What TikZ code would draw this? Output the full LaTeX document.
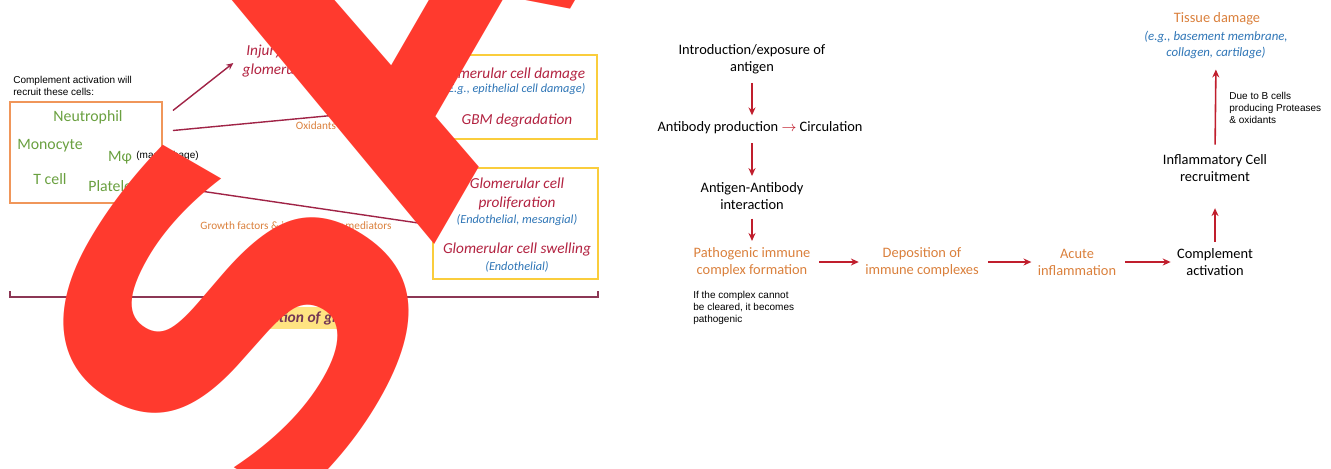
\documentclass[tikz,border=0pt]{standalone}
\usepackage{fontspec}
\setmainfont{Carlito}
\newfontfamily\arialfont{Liberation Sans}
\newfontfamily\stampfont{DejaVu Sans}
\usepackage{xcolor}
\usetikzlibrary{arrows.meta, positioning, calc}

\definecolor{cellgreen}{RGB}{106,160,64}
\definecolor{effred}{RGB}{178,34,64}
\definecolor{exblue}{RGB}{46,117,182}
\definecolor{pathorange}{RGB}{218,128,60}
\definecolor{arrowred}{RGB}{192,30,45}
\definecolor{linkred}{RGB}{160,35,70}
\definecolor{boxorange}{RGB}{240,150,90}
\definecolor{boxyellow}{RGB}{250,205,60}
\definecolor{bracketc}{RGB}{140,55,85}
\definecolor{glomtext}{RGB}{115,55,85}
\definecolor{hilite}{RGB}{255,228,130}
\definecolor{wmred}{RGB}{255,58,46}

\tikzset{
  stage/.style   = {align=center, inner sep=0pt,
                    font=\fontsize{8.2}{9.6}\selectfont},
  note/.style    = {align=left, inner sep=0pt,
                    font=\arialfont\fontsize{5.7}{6.9}\selectfont},
  cell/.style    = {inner sep=0pt, text=cellgreen,
                    font=\fontsize{9}{10}\selectfont},
  effect/.style  = {align=center, inner sep=0pt, text=effred,
                    font=\itshape\fontsize{8.7}{10.8}\selectfont},
  exlabel/.style = {align=center, inner sep=0pt, text=exblue,
                    font=\itshape\fontsize{7}{8.5}\selectfont},
  medlabel/.style= {inner sep=0pt, text=pathorange,
                    font=\fontsize{6.4}{7}\selectfont},
  cellbox/.style = {draw=boxorange, line width=1.1pt, inner sep=0pt},
  ybox/.style    = {draw=boxyellow, line width=1.1pt, inner sep=0pt},
  flow/.style    = {-{Stealth[length=4.5pt, width=4pt]}, line width=0.9pt,
                    arrowred, shorten <=5pt, shorten >=3.5pt},
  link/.style    = {line width=0.8pt, linkred},
  linkarr/.style = {link, -{Stealth[length=4pt, width=3.6pt]}},
  stamp/.style   = {inner sep=0pt, text=wmred,
                    font=\stampfont\bfseries\fontsize{249}{249}\selectfont},
}

\begin{document}
\begin{tikzpicture}[x=0.02cm, y=-0.02cm]
  \useasboundingbox (0,0) rectangle (1331,468);

  % ---- Left panel: recruited cells ----
  \node[note, anchor=north west] (recruit) at (13,76)
        {Complement activation will\\recruit these cells:};
  \node[cellbox, minimum width=3.04cm, minimum height=2.02cm]
        (cells) at (86,152.5) {};
  \node[cell] (neut)  at (88,117) {Neutrophil};
  \node[cell] (mono)  at (50,146) {Monocyte};
  \node[cell] (mphi)  at (120,158) {Mφ};
  \node[note, anchor=west] (macro) at (136,156) {(macrophage)};
  \node[cell] (tcell) at (50,179) {T cell};
  \node[cell, anchor=west] (plt) at (88,186) {Platelets};

  % ---- Left panel: glomerular effects ----
  \node[effect] (injury) at (272,61) {Injury of\\glomeruli};

  \node[ybox, minimum width=3.28cm, minimum height=1.68cm]
        (dmgbox) at (515,97) {};
  \node[effect]  (dmg)  at (511,74)  {Glomerular cell damage};
  \node[exlabel] (epi)  at (515,89)  {(E.g., epithelial cell damage)};
  \node[effect]  (gbm)  at (517,120) {GBM degradation};

  \node[ybox, minimum width=3.3cm, minimum height=2.22cm]
        (prolbox) at (515.5,223.5) {};
  \node[effect]  (prol)  at (517,194) {Glomerular cell\\proliferation};
  \node[exlabel] (endo)  at (517,220) {(Endothelial, mesangial)};
  \node[effect]  (swell) at (517,249) {Glomerular cell swelling};
  \node[exlabel] (endob) at (517,267) {(Endothelial)};

  % mediator links
  \draw[linkarr] ($(cells.east)+(10,-42)$) -- ($(injury.west)+(-9,2)$);
  \draw[linkarr] (injury.east) -- ($(dmgbox.west)+(0,-11)$);
  \draw[linkarr] ($(cells.east)+(10,-22)$) -- ($(dmgbox.west)+(0,9)$);
  \draw[linkarr] ($(cells.east)+(0,33)$) -- ($(prolbox.west)+(0,1.5)$);
  \node[medlabel] (oxid)   at (316,126) {Oxidants};
  \node[medlabel] (growth) at (296,226) {Growth factors \& inflammatory mediators};

  % bracket + caption
  \draw[line width=0.9pt, bracketc] (10,291) -- (10,297) -- (598,297) -- (598,291);
  \node[fill=hilite, inner xsep=9pt, inner ysep=2.5pt, text=glomtext,
        font=\bfseries\itshape\fontsize{8.8}{10}\selectfont]
        (glom) at (301,318) {Inflammation of glomeruli};

  % ---- Right panel: immune complex pathway ----
  \node[stage] (intro)  at (752,59)  {Introduction/exposure of\\antigen};
  \node[stage] (abprod) at (760,128)
        {Antibody production {\color{arrowred}$\rightarrow$} Circulation};
  \node[stage] (agab)   at (752,196) {Antigen-Antibody\\interaction};
  \node[stage, text=pathorange] (pic)   at (752,262) {Pathogenic immune\\complex formation};
  \node[note, anchor=north west] (clear) at (693,291)
        {If the complex cannot\\be cleared, it becomes\\pathogenic};
  \node[stage, text=pathorange] (depo)  at (922,262) {Deposition of\\immune complexes};
  \node[stage, text=pathorange] (acute) at (1077,262) {Acute\\inflammation};
  \node[stage] (compl)  at (1215,262) {Complement\\activation};
  \node[stage] (infl)   at (1215,168) {Inflammatory Cell\\recruitment};
  \node[note, anchor=north west] (bcells) at (1229,92)
        {Due to B cells\\producing Proteases\\\& oxidants};
  \node[stage, text=pathorange] (tissue) at (1217,19) {Tissue damage};
  \node[exlabel, font=\itshape\fontsize{7.3}{9.1}\selectfont]
        (tissueex) at (1216,44.5) {(e.g., basement membrane,\\collagen, cartilage)};

  % arrows
  \foreach \a/\b in {intro/abprod, abprod/agab, agab/pic}
    \draw[flow] (\a.south -| pic.north) -- (\b.north -| pic.north);
  \foreach \a/\b in {pic/depo, depo/acute, acute/compl}
    \draw[flow] (\a.east) -- (\b.west);
  \draw[flow, shorten <=3.7pt, shorten >=15pt] (compl.north) -- (infl.south);
  \draw[flow, shorten <=5.4pt, shorten >=6.2pt] (infl.north) -- (tissueex.south);

  % ---- stamp ----
  \node[stamp, rotate=60, xscale=1.07, anchor=base west] (wmS) at (290,543) {S};
  \node[stamp, rotate=60, scale=1.08, anchor=base west] (wmA) at (433,247) {A};

\end{tikzpicture}
\end{document}
